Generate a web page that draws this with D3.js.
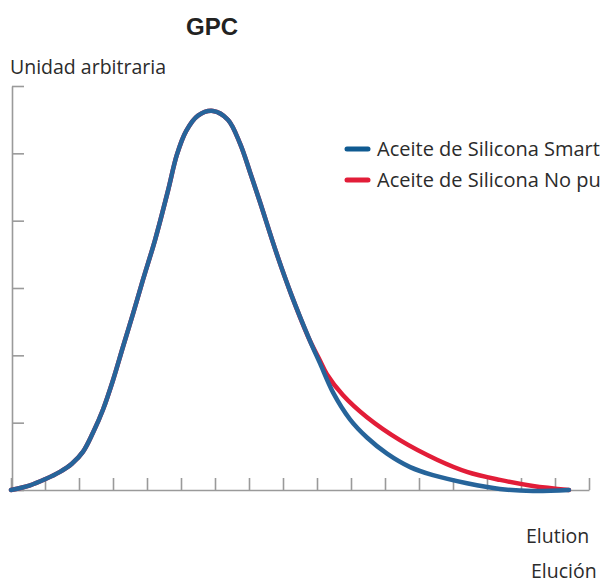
<!DOCTYPE html>
<html>
<head>
<meta charset="utf-8">
<script src="https://cdn.jsdelivr.net/npm/d3@7"></script>
<style>
  html, body { margin: 0; padding: 0; background: #fff; overflow: hidden; }
  text { font-family: "Open Sans", "Liberation Sans", Arial, sans-serif; fill: #2b2b2b; }
</style>
</head>
<body>
<svg id="chart" width="600" height="581"></svg>
<script>
// Data (x in elution units = x-axis tick steps, y in arbitrary units = y-axis tick steps)
const seriesNames = ["Aceite de Silicona Smart", "Aceite de Silicona No purificado"];
const smartX = [0, 0.56, 1.0, 1.44, 1.79, 2.12, 2.41, 2.71, 3.0, 3.29, 3.59, 3.88, 4.24, 4.62, 4.88, 5.15, 5.5, 5.94, 6.38, 6.74, 7.03, 7.32, 7.82, 8.26, 8.79, 9.09, 9.47, 9.97, 10.47, 11.06, 11.74, 12.41, 13.41, 14.38, 15.35, 16.41];
const smartY = [0, 0.07, 0.16, 0.27, 0.39, 0.57, 0.85, 1.20, 1.63, 2.12, 2.62, 3.12, 3.72, 4.45, 4.98, 5.33, 5.56, 5.63, 5.50, 5.14, 4.72, 4.28, 3.50, 2.88, 2.22, 1.88, 1.45, 1.05, 0.78, 0.54, 0.34, 0.22, 0.10, 0.015, -0.015, 0];
const rawTailX = [9.09, 9.29, 9.76, 10.47, 11.44, 12.53, 13.41, 14.38, 15.35, 16.41];
const rawTailY = [1.92, 1.72, 1.41, 1.08, 0.74, 0.45, 0.27, 0.15, 0.06, 0];
const xTicks = d3.range(0, 18);
const yTicks = d3.range(0, 7);
const titleText = "GPC";
const yLabel = "Unidad arbitraria";
const xLabels = ["Elution", "Elución"];
const colors = ["#26649a", "#e21d38"];
const legendColors = ["#0f5a91", "#e21d38"];

const svg = d3.select("#chart");
const x = d3.scaleLinear().domain([0, 17]).range([11, 589]);
const y = d3.scaleLinear().domain([0, 6]).range([490, 86]);

// Build series
const smart = smartX.map((v, i) => ({x: v, y: smartY[i]}));
const shared = smart.filter(d => d.x < 9.0);
const raw = shared.concat(rawTailX.map((v, i) => ({x: v, y: rawTailY[i]})));

// Axes
const axisColor = "#9a9a9a";
const yAxis = svg.append("g")
  .attr("transform", `translate(${x(0) + 1},0)`)
  .call(d3.axisRight(y).tickValues(yTicks).tickSize(12).tickSizeOuter(0).tickFormat(""));
const xAxis = svg.append("g")
  .attr("transform", `translate(0,${y(0)})`)
  .call(d3.axisTop(x).tickValues(xTicks).tickSize(12).tickSizeOuter(0).tickFormat(""));
[yAxis, xAxis].forEach(g => {
  g.selectAll("path, line").attr("stroke", axisColor).attr("stroke-width", 1.6);
});

// Lines
const line = d3.line().x(d => x(d.x)).y(d => y(d.y)).curve(d3.curveCatmullRom.alpha(0.5));
svg.append("path").datum(raw)
  .attr("d", line).attr("fill", "none")
  .attr("stroke", colors[1]).attr("stroke-width", 4.5)
  .attr("stroke-linecap", "round").attr("stroke-linejoin", "round");
svg.append("path").datum(smart)
  .attr("d", line).attr("fill", "none")
  .attr("stroke", colors[0]).attr("stroke-width", 4.5)
  .attr("stroke-linecap", "round").attr("stroke-linejoin", "round");

// Title & labels
svg.append("text").attr("x", 212).attr("y", 35)
  .attr("text-anchor", "middle")
  .style("font-family", "'Liberation Sans', Arial, sans-serif")
  .style("font-weight", "bold").style("font-size", "24px")
  .style("fill", "#222").text(titleText);
svg.append("text").attr("x", 10).attr("y", 74)
  .style("font-size", "19.5px").text(yLabel);
svg.append("text").attr("x", 526).attr("y", 543)
  .style("font-size", "19.5px").text(xLabels[0]);
svg.append("text").attr("x", 531).attr("y", 578)
  .style("font-size", "19.5px").text(xLabels[1]);

// Legend
const legend = svg.append("g");
seriesNames.forEach((name, i) => {
  const ly = 149 + i * 31;
  legend.append("line")
    .attr("x1", 347).attr("x2", 368).attr("y1", ly).attr("y2", ly)
    .attr("stroke", legendColors[i]).attr("stroke-width", 5)
    .attr("stroke-linecap", "round");
  legend.append("text").attr("x", 377).attr("y", ly + 7)
    .style("font-size", "20px").text(name);
});
</script>
</body>
</html>
